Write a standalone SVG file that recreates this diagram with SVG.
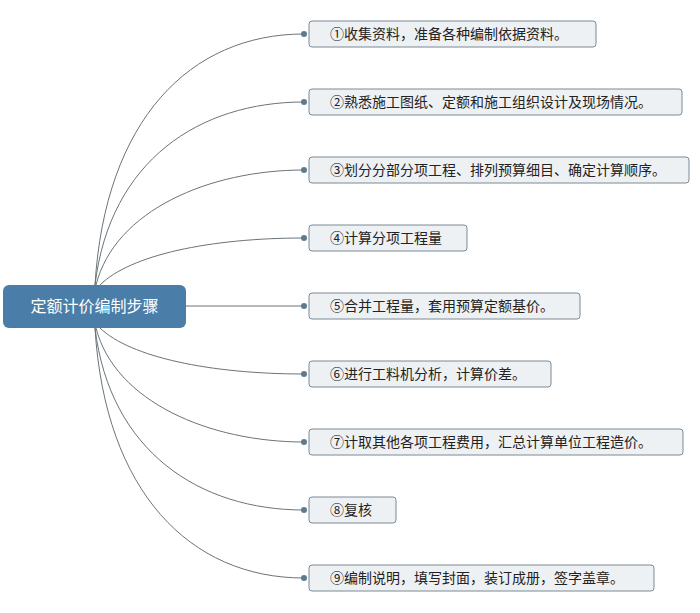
<svg xmlns="http://www.w3.org/2000/svg" width="700" height="613" viewBox="0 0 700 613">
<style>
.c{fill:none;stroke:#6a7479;stroke-width:1}
.d{fill:#5f7a8c}
.b{fill:#eef1f4;stroke:#7d8a94;stroke-width:1}
.t{font-family:"Noto Sans CJK SC","Liberation Sans",sans-serif;font-size:14px;fill:#222}
</style>
<rect width="700" height="613" fill="#fff"/>
<g id="connectors">
<path class="c" d="M95,285 C105,120 190,34 304,34"/>
<path class="c" d="M95,285 C110,160 200,102 304,102"/>
<path class="c" d="M96,285 C115,210 210,170 304,170"/>
<path class="c" d="M100,285 C130,255 210,238 304,238"/>
<path class="c" d="M186,306 L304,306"/>
<path class="c" d="M100,328 C130,357 210,374 304,374"/>
<path class="c" d="M96,328 C115,402 210,442 304,442"/>
<path class="c" d="M95,328 C110,452 200,510 304,510"/>
<path class="c" d="M95,328 C105,492 190,578 304,578"/>
<circle class="d" cx="304" cy="34" r="3"/><circle class="d" cx="304" cy="102" r="3"/><circle class="d" cx="304" cy="170" r="3"/>
<circle class="d" cx="304" cy="238" r="3"/><circle class="d" cx="304" cy="306" r="3"/><circle class="d" cx="304" cy="374" r="3"/>
<circle class="d" cx="304" cy="442" r="3"/><circle class="d" cx="304" cy="510" r="3"/><circle class="d" cx="304" cy="578" r="3"/>
</g>
<g id="root"><rect x="3" y="285" width="183" height="43" rx="6" fill="#4a7ea8"/>
<text x="94.5" y="312" text-anchor="middle" font-family="Noto Sans CJK SC,sans-serif" font-size="16" fill="#fff">定额计价编制步骤</text></g>
<g id="n1"><rect class="b" x="309" y="21" width="287" height="26" rx="3"/><text class="t" x="330" y="39">①收集资料，准备各种编制依据资料。</text></g>
<g id="n2"><rect class="b" x="309" y="89" width="373" height="26" rx="3"/><text class="t" x="330" y="107">②熟悉施工图纸、定额和施工组织设计及现场情况。</text></g>
<g id="n3"><rect class="b" x="309" y="157" width="380" height="26" rx="3"/><text class="t" x="330" y="175">③划分分部分项工程、排列预算细目、确定计算顺序。</text></g>
<g id="n4"><rect class="b" x="309" y="225" width="158" height="26" rx="3"/><text class="t" x="330" y="243">④计算分项工程量</text></g>
<g id="n5"><rect class="b" x="309" y="293" width="271" height="26" rx="3"/><text class="t" x="330" y="311">⑤合并工程量，套用预算定额基价。</text></g>
<g id="n6"><rect class="b" x="309" y="361" width="242" height="26" rx="3"/><text class="t" x="330" y="379">⑥进行工料机分析，计算价差。</text></g>
<g id="n7"><rect class="b" x="309" y="429" width="374" height="26" rx="3"/><text class="t" x="330" y="447">⑦计取其他各项工程费用，汇总计算单位工程造价。</text></g>
<g id="n8"><rect class="b" x="309" y="497" width="87" height="26" rx="3"/><text class="t" x="330" y="515">⑧复核</text></g>
<g id="n9"><rect class="b" x="309" y="565" width="345" height="26" rx="3"/><text class="t" x="330" y="583">⑨编制说明，填写封面，装订成册，签字盖章。</text></g>
</svg>
